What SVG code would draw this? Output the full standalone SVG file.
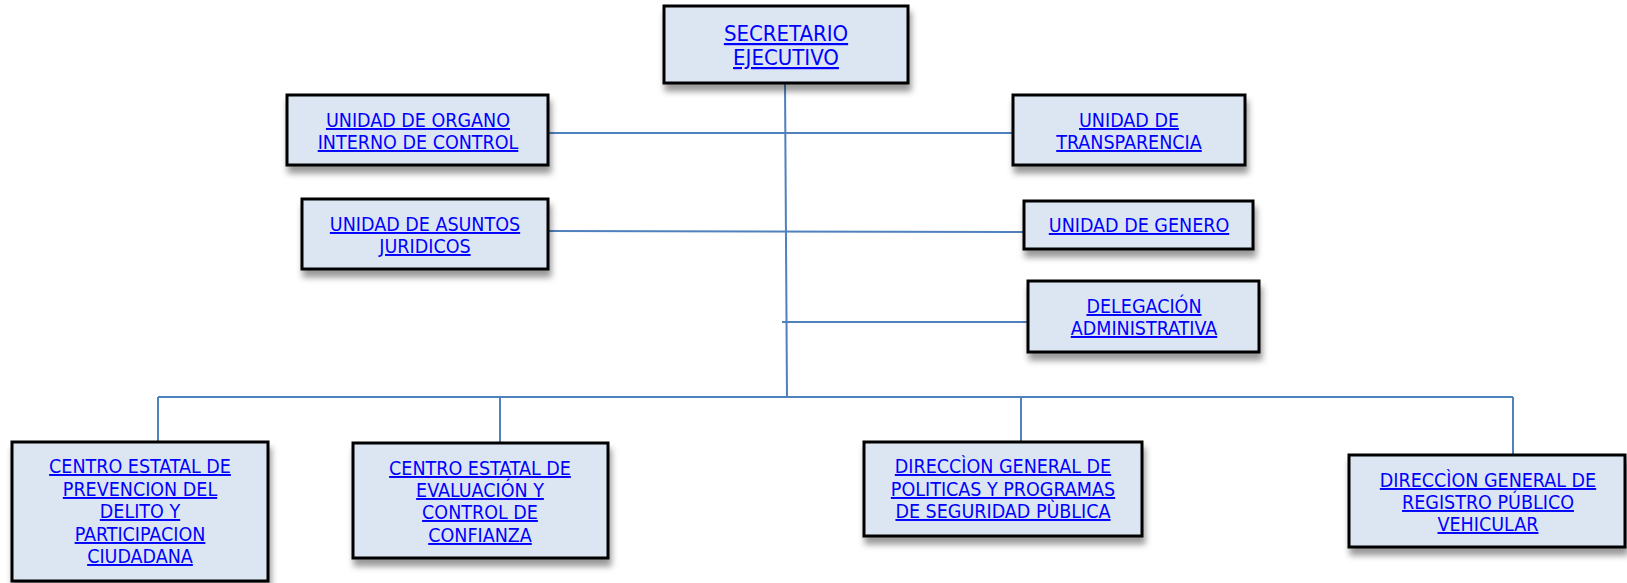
<svg xmlns="http://www.w3.org/2000/svg" width="1627" height="583" viewBox="0 0 1627 583">
<defs>
<filter id="sh" x="-10%" y="-20%" width="130%" height="150%">
<feDropShadow dx="2" dy="7" stdDeviation="3" flood-color="#000" flood-opacity="0.4"/>
</filter>
<style>
.box{fill:#dce6f2;stroke:#000;stroke-width:3;filter:url(#sh)}
.t{font-family:'DejaVu Sans Condensed','DejaVu Sans',sans-serif;font-size:19.5px;fill:#0000ff;text-anchor:middle;text-decoration:underline}
.big{font-size:22px}
.c{stroke:#4f81bd;stroke-width:2;fill:none}
</style>
</defs>
<rect width="1627" height="583" fill="#fff"/>
<g id="connectors">
<path class="c" d="M785 83 L787 397"/>
<path class="c" d="M548 133 H1013"/>
<path class="c" d="M548 231 L1024 232"/>
<path class="c" d="M782 322 H1028"/>
<path class="c" d="M158 397 H1513"/>
<path class="c" d="M158 397 V442"/>
<path class="c" d="M500 397 V443"/>
<path class="c" d="M1021 397 V442"/>
<path class="c" d="M1513 397 V455"/>
</g>
<g id="secretario">
<rect class="box" x="664" y="6" width="244" height="77"/>
<text class="t big" x="786" y="41">SECRETARIO</text>
<text class="t big" x="786" y="65">EJECUTIVO</text>
</g>
<g id="organo">
<rect class="box" x="287" y="95" width="261" height="70"/>
<text class="t" x="418" y="127">UNIDAD DE ORGANO</text>
<text class="t" x="418" y="149">INTERNO DE CONTROL</text>
</g>
<g id="transparencia">
<rect class="box" x="1013" y="95" width="232" height="70"/>
<text class="t" x="1129" y="127">UNIDAD DE</text>
<text class="t" x="1129" y="149">TRANSPARENCIA</text>
</g>
<g id="juridicos">
<rect class="box" x="302" y="199" width="246" height="70"/>
<text class="t" x="425" y="231">UNIDAD DE ASUNTOS</text>
<text class="t" x="425" y="253">JURIDICOS</text>
</g>
<g id="genero">
<rect class="box" x="1024" y="201" width="229" height="48"/>
<text class="t" x="1139" y="232">UNIDAD DE GENERO</text>
</g>
<g id="delegacion">
<rect class="box" x="1028" y="281" width="231" height="71"/>
<text class="t" x="1144" y="313">DELEGACIÓN</text>
<text class="t" x="1144" y="335">ADMINISTRATIVA</text>
</g>
<g id="prevencion">
<rect class="box" x="12" y="442" width="256" height="139"/>
<text class="t" x="140" y="473">CENTRO ESTATAL DE</text>
<text class="t" x="140" y="496">PREVENCION DEL</text>
<text class="t" x="140" y="518">DELITO Y</text>
<text class="t" x="140" y="541">PARTICIPACION</text>
<text class="t" x="140" y="563">CIUDADANA</text>
</g>
<g id="evaluacion">
<rect class="box" x="353" y="443" width="255" height="115"/>
<text class="t" x="480" y="475">CENTRO ESTATAL DE</text>
<text class="t" x="480" y="497">EVALUACIÓN Y</text>
<text class="t" x="480" y="519">CONTROL DE</text>
<text class="t" x="480" y="542">CONFIANZA</text>
</g>
<g id="politicas">
<rect class="box" x="864" y="442" width="278" height="94"/>
<text class="t" x="1003" y="473">DIRECCÌON GENERAL DE</text>
<text class="t" x="1003" y="496">POLITICAS Y PROGRAMAS</text>
<text class="t" x="1003" y="518">DE SEGURIDAD PÙBLICA</text>
</g>
<g id="registro">
<rect class="box" x="1349" y="455" width="276" height="92"/>
<text class="t" x="1488" y="487">DIRECCÌON GENERAL DE</text>
<text class="t" x="1488" y="509">REGISTRO PÚBLICO</text>
<text class="t" x="1488" y="531">VEHICULAR</text>
</g>
</svg>
